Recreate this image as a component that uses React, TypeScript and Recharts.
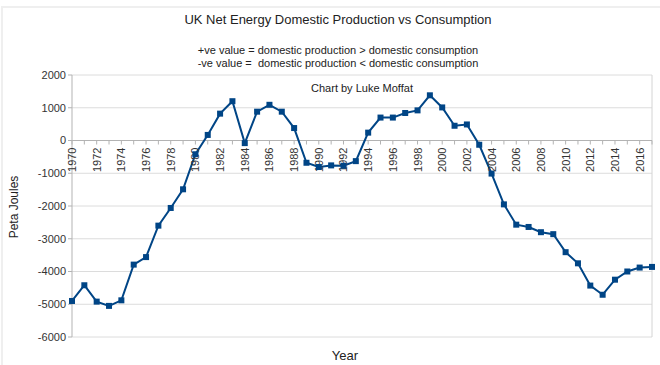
import React from 'react';
import {
  LineChart,
  Line,
  XAxis,
  YAxis,
  CartesianGrid,
  ReferenceLine,
  ReferenceDot,
} from 'recharts';

// Years on the category axis
const years = [
  1970, 1971, 1972, 1973, 1974, 1975, 1976, 1977, 1978, 1979,
  1980, 1981, 1982, 1983, 1984, 1985, 1986, 1987, 1988, 1989,
  1990, 1991, 1992, 1993, 1994, 1995, 1996, 1997, 1998, 1999,
  2000, 2001, 2002, 2003, 2004, 2005, 2006, 2007, 2008, 2009,
  2010, 2011, 2012, 2013, 2014, 2015, 2016, 2017,
];

// Net energy (production - consumption), peta joules
const netEnergy = [
  -4900, -4420, -4920, -5050, -4880, -3790, -3560, -2600, -2060, -1490,
  -420, 170, 820, 1200, -80, 880, 1090, 880, 380, -680,
  -810, -760, -770, -630, 240, 700, 700, 840, 920, 1380,
  1010, 450, 490, -130, -1010, -1950, -2570, -2640, -2800, -2860,
  -3410, -3750, -4430, -4710, -4250, -4000, -3880, -3860,
];

const labelYears = [
  1970, 1972, 1974, 1976, 1978, 1980, 1982, 1984, 1986, 1988, 1990, 1992,
  1994, 1996, 1998, 2000, 2002, 2004, 2006, 2008, 2010, 2012, 2014, 2016,
];

const yTicks = [-6000, -5000, -4000, -3000, -2000, -1000, 0, 1000, 2000];

const chartData = years.map((year, i) => ({ year, value: netEnergy[i] }));

const FONT = '"Liberation Sans", Arial, sans-serif';
const LINE_COLOR = '#004586';

const YearTick = (props: any) => {
  const { cx, cy, year } = props;
  const showLabel = labelYears.includes(year);
  return (
    <g>
      <line x1={cx} y1={cy} x2={cx} y2={cy + 4} stroke="#b3b3b3" strokeWidth={1} />
      {showLabel && (
        <text
          x={cx}
          y={cy + 7}
          transform={`rotate(-90 ${cx} ${cy + 7})`}
          textAnchor="end"
          dominantBaseline="central"
          fontSize={11}
          fontFamily={FONT}
          fill="#333"
        >
          {year}
        </text>
      )}
    </g>
  );
};

const App = () => {
  const textStyle: React.CSSProperties = {
    position: 'absolute',
    left: 0,
    width: 676,
    textAlign: 'center',
    fontFamily: FONT,
    color: '#222',
    whiteSpace: 'pre',
  };

  return (
    <div style={{ position: 'absolute', left: 0, top: 0, width: 660, height: 365, background: '#fff', overflow: 'hidden' }}>
      <div
        style={{
          position: 'absolute',
          left: 1,
          top: 6,
          width: 700,
          height: 400,
          borderTop: '2px solid #efefef',
          borderLeft: '2px solid #efefef',
        }}
      />
      <div style={{ ...textStyle, top: 12, fontSize: 13 }}>
        UK Net Energy Domestic Production vs Consumption
      </div>
      <div style={{ ...textStyle, top: 44, fontSize: 11, lineHeight: '13px' }}>
        {'+ve value = domestic production > domestic consumption\n-ve value =  domestic production < domestic consumption'}
      </div>
      <div style={{ ...textStyle, left: 24, top: 82, fontSize: 11 }}>Chart by Luke Moffat</div>
      <div
        style={{
          position: 'absolute',
          left: 14,
          top: 207,
          transform: 'translate(-50%, -50%) rotate(-90deg)',
          fontFamily: FONT,
          fontSize: 12,
          color: '#222',
          whiteSpace: 'nowrap',
        }}
      >
        Peta Joules
      </div>
      <div style={{ ...textStyle, left: 7, top: 348, fontSize: 13 }}>Year</div>

      <LineChart
        width={660}
        height={365}
        data={chartData}
        margin={{ top: 75, right: 8, bottom: 28, left: 0 }}
        style={{ position: 'absolute', left: 0, top: 0 }}
      >
        <CartesianGrid horizontal vertical={false} stroke="#dcdcdc" />
        <XAxis dataKey="year" type="number" domain={[1970, 2017]} hide />
        <YAxis
          domain={[-6000, 2000]}
          ticks={yTicks}
          width={72}
          axisLine={{ stroke: '#b3b3b3' }}
          tickLine={{ stroke: '#b3b3b3' }}
          tickSize={4}
          tick={{ fontSize: 11, fill: '#333', fontFamily: FONT }}
          interval={0}
        />
        <ReferenceLine x={2017} stroke="#d4d4d4" />
        <ReferenceLine y={0} stroke="#b3b3b3" />
        {years.map((year) => (
          <ReferenceDot
            key={year}
            x={year}
            y={0}
            r={1}
            shape={(p: any) => <YearTick {...p} year={year} />}
          />
        ))}
        <Line
          type="linear"
          dataKey="value"
          stroke={LINE_COLOR}
          strokeWidth={2}
          dot={(p: any) => (
            <rect key={p.index} x={p.cx - 3} y={p.cy - 3} width={6} height={6} fill={LINE_COLOR} />
          )}
          activeDot={false}
          isAnimationActive={false}
        />
      </LineChart>
    </div>
  );
};

export default App;
